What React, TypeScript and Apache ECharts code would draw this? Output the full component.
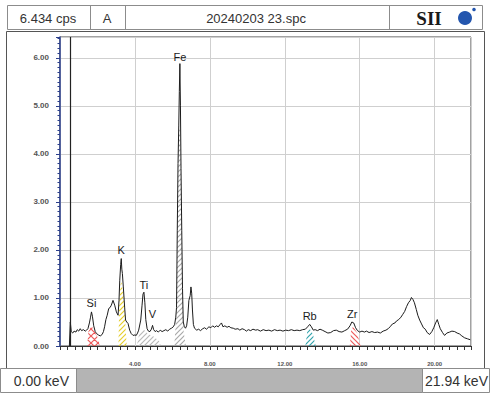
import React, { useEffect, useRef } from "react";
import * as echarts from "echarts";

// ---- data ----
const headerCps = "6.434 cps";
const headerMode = "A";
const headerFile = "20240203 23.spc";
const rangeStart = "0.00 keV";
const rangeEnd = "21.94 keV";

const xMax = 21.94; // keV
const yMax = 6.434; // cps
const cursorKeV = 0.53;

const spectrum: [number, number][] = [
  [0.5, 0.0], [0.55, 0.5], [0.6, 0.3], [0.68, 0.27], [0.75, 0.31], [0.85, 0.29], [0.92, 0.34],
  [1.0, 0.31], [1.08, 0.36], [1.15, 0.32], [1.25, 0.34], [1.35, 0.31], [1.42, 0.33],
  [1.49, 0.36], [1.57, 0.48], [1.63, 0.6], [1.68, 0.71], [1.73, 0.62], [1.8, 0.42], [1.88, 0.3],
  [1.95, 0.26], [2.05, 0.23], [2.15, 0.21], [2.25, 0.24], [2.32, 0.3],
  [2.38, 0.4], [2.45, 0.55], [2.52, 0.64], [2.6, 0.78], [2.67, 0.8], [2.74, 0.85], [2.83, 0.95],
  [2.92, 0.85], [3.01, 0.71], [3.1, 0.64], [3.15, 0.95], [3.19, 1.37], [3.24, 1.7], [3.27, 1.82],
  [3.3, 1.6], [3.33, 1.51], [3.38, 1.23], [3.45, 0.81], [3.5, 0.54], [3.56, 0.5], [3.63, 0.47],
  [3.72, 0.33], [3.8, 0.26], [3.9, 0.22], [4.0, 0.23], [4.07, 0.22], [4.14, 0.27], [4.2, 0.33],
  [4.31, 0.54], [4.38, 0.85], [4.43, 1.08], [4.48, 1.12], [4.53, 0.9], [4.58, 0.55], [4.65, 0.36],
  [4.72, 0.31], [4.8, 0.3], [4.88, 0.35], [4.94, 0.43], [5.0, 0.34], [5.08, 0.3], [5.15, 0.32],
  [5.25, 0.29], [5.35, 0.33], [5.45, 0.3], [5.55, 0.32], [5.65, 0.34], [5.75, 0.31], [5.85, 0.35],
  [5.95, 0.37], [6.05, 0.4], [6.12, 0.45], [6.18, 0.6], [6.22, 0.8], [6.26, 2.4], [6.3, 3.8],
  [6.34, 4.6], [6.37, 5.3], [6.4, 5.88], [6.43, 5.0], [6.46, 3.7], [6.5, 2.4], [6.54, 1.2],
  [6.58, 0.5], [6.64, 0.4], [6.7, 0.37], [6.76, 0.42], [6.82, 0.6], [6.88, 0.95], [6.95, 1.05],
  [6.99, 1.23], [7.03, 1.1], [7.07, 0.75], [7.12, 0.45], [7.18, 0.37], [7.3, 0.33], [7.4, 0.35],
  [7.5, 0.32], [7.62, 0.36], [7.72, 0.38], [7.82, 0.35], [7.95, 0.4], [8.05, 0.38], [8.15, 0.42],
  [8.25, 0.39], [8.35, 0.42], [8.45, 0.4], [8.55, 0.45], [8.62, 0.48], [8.7, 0.4], [8.8, 0.42],
  [8.92, 0.39], [9.02, 0.41], [9.12, 0.38], [9.25, 0.37], [9.35, 0.35], [9.5, 0.36], [9.6, 0.33],
  [9.72, 0.36], [9.85, 0.34], [9.95, 0.31], [10.05, 0.34], [10.18, 0.32], [10.3, 0.35],
  [10.45, 0.33], [10.55, 0.34], [10.7, 0.31], [10.85, 0.34], [11.0, 0.32], [11.15, 0.33],
  [11.3, 0.31], [11.45, 0.34], [11.6, 0.32], [11.75, 0.33], [11.9, 0.31], [12.05, 0.33],
  [12.2, 0.32], [12.35, 0.34], [12.5, 0.32], [12.65, 0.33], [12.8, 0.32], [12.95, 0.34],
  [13.1, 0.35], [13.22, 0.4], [13.33, 0.45], [13.42, 0.4], [13.52, 0.33], [13.62, 0.34],
  [13.75, 0.32], [13.88, 0.35], [14.0, 0.33], [14.15, 0.3], [14.3, 0.27], [14.45, 0.28],
  [14.6, 0.32], [14.75, 0.33], [14.9, 0.3], [15.05, 0.29], [15.2, 0.32], [15.35, 0.35],
  [15.48, 0.42], [15.58, 0.5], [15.68, 0.48], [15.78, 0.38], [15.88, 0.32], [16.0, 0.29],
  [16.12, 0.31], [16.25, 0.29], [16.36, 0.31], [16.5, 0.28], [16.65, 0.3], [16.8, 0.28],
  [16.95, 0.29], [17.1, 0.27], [17.25, 0.31], [17.4, 0.33], [17.52, 0.36], [17.62, 0.4],
  [17.75, 0.46], [17.88, 0.48], [17.96, 0.52], [18.08, 0.55], [18.2, 0.6], [18.3, 0.66],
  [18.4, 0.72], [18.5, 0.82], [18.6, 0.9], [18.7, 0.95], [18.76, 1.01], [18.84, 0.97],
  [18.92, 0.9], [19.02, 0.76], [19.1, 0.64], [19.2, 0.54], [19.3, 0.46], [19.4, 0.38],
  [19.5, 0.35], [19.6, 0.28], [19.73, 0.24], [19.85, 0.3], [19.95, 0.38], [20.05, 0.48],
  [20.14, 0.55], [20.22, 0.45], [20.3, 0.36], [20.42, 0.28], [20.53, 0.22], [20.65, 0.27],
  [20.8, 0.29], [20.92, 0.31], [21.07, 0.3], [21.2, 0.27], [21.33, 0.25], [21.45, 0.21],
  [21.6, 0.17], [21.75, 0.15], [21.9, 0.13],
];

// hatched regions of interest (net peak areas)
const roiSi: [number, number][] = [[1.45, 0], [1.52, 0.3], [1.68, 0.42], [1.85, 0.3], [2.05, 0.15], [2.12, 0]];
const roiK: [number, number][] = [[3.12, 0], [3.16, 0.9], [3.26, 1.38], [3.4, 1.0], [3.5, 0.4], [3.56, 0]];
const roiTiV: [number, number][] = [[4.1, 0], [4.25, 0.3], [4.45, 0.35], [4.7, 0.25], [5.0, 0.2], [5.3, 0.1], [5.38, 0]];
const roiFe: [number, number][] = [[6.1, 0], [6.22, 0.7], [6.26, 2.2], [6.34, 4.4], [6.4, 4.6], [6.46, 3.5], [6.52, 1.5], [6.6, 0.3], [6.72, 0]];
const roiRb: [number, number][] = [[13.1, 0], [13.2, 0.3], [13.33, 0.36], [13.5, 0.25], [13.65, 0]];
const roiZr: [number, number][] = [[15.47, 0], [15.55, 0.35], [15.65, 0.4], [15.85, 0.28], [16.05, 0]];

const peakNames = ["Si", "K", "Ti", "V", "Fe", "Rb", "Zr"];
const peakKeV = [1.68, 3.27, 4.48, 4.94, 6.4, 13.33, 15.6];
const peakCps = [0.71, 1.82, 1.12, 0.43, 5.88, 0.45, 0.5];

// ---- styles ----
const labelGap: Record<string, number> = { Si: 3, K: 3, Ti: 2, V: 6, Fe: 1, Rb: 3, Zr: 2 };
const FONT = '"Liberation Sans", Arial, sans-serif';

function hatch(color: string, kind: "fwd" | "back" | "cross", s: number) {
  const c = document.createElement("canvas");
  c.width = s;
  c.height = s;
  const g = c.getContext("2d")!;
  g.strokeStyle = color;
  g.lineWidth = 1.2;
  g.beginPath();
  if (kind !== "back") {
    g.moveTo(-1, s + 1); g.lineTo(s + 1, -1);
    g.moveTo(-1, 1); g.lineTo(1, -1);
    g.moveTo(s - 1, s + 1); g.lineTo(s + 1, s - 1);
  }
  if (kind !== "fwd") {
    g.moveTo(-1, -1); g.lineTo(s + 1, s + 1);
    g.moveTo(s - 1, -1); g.lineTo(s + 1, 1);
    g.moveTo(-1, s - 1); g.lineTo(1, s + 1);
  }
  g.stroke();
  return { image: c, repeat: "repeat" } as any;
}

function roiSeries(data: [number, number][], color: string, kind: "fwd" | "back" | "cross", s = 5) {
  return {
    type: "line",
    data,
    symbol: "none",
    silent: true,
    z: 1,
    lineStyle: { width: 0, opacity: 0 },
    areaStyle: { color: hatch(color, kind, s), opacity: 1 },
  };
}

export default function App() {
  const ref = useRef<HTMLDivElement>(null);

  useEffect(() => {
    if (!ref.current) return;
    const chart = echarts.init(ref.current, undefined, { renderer: "svg" });
    const fmt = (v: number) => v.toFixed(2);

    const staticGraphic: any[] = [
      // outer plot frame
      { type: "rect", shape: { x: 6.5, y: 31.5, width: 478, height: 337 }, style: { fill: "none", stroke: "#555", lineWidth: 1 }, z: 0, silent: true },
      // header cells
      { type: "rect", shape: { x: 7.5, y: 5.5, width: 475, height: 24 }, style: { fill: "#fff", stroke: "#8c8c8c", lineWidth: 1 }, silent: true },
      { type: "line", shape: { x1: 90.5, y1: 5.5, x2: 90.5, y2: 29.5 }, style: { stroke: "#8c8c8c", lineWidth: 1 }, silent: true },
      { type: "line", shape: { x1: 125.5, y1: 5.5, x2: 125.5, y2: 29.5 }, style: { stroke: "#8c8c8c", lineWidth: 1 }, silent: true },
      { type: "line", shape: { x1: 389.5, y1: 5.5, x2: 389.5, y2: 29.5 }, style: { stroke: "#8c8c8c", lineWidth: 1 }, silent: true },
      { type: "text", x: 48, y: 18, style: { text: headerCps, fill: "#333", font: `13px ${FONT}`, align: "center", verticalAlign: "middle" }, silent: true },
      { type: "text", x: 107, y: 18, style: { text: headerMode, fill: "#333", font: `13px ${FONT}`, align: "center", verticalAlign: "middle" }, silent: true },
      { type: "text", x: 256, y: 18, style: { text: headerFile, fill: "#333", font: `13px ${FONT}`, align: "center", verticalAlign: "middle" }, silent: true },
      { type: "text", x: 429, y: 18, style: { text: "SII", fill: "#1a1a1a", font: `bold 19px "Liberation Serif", "DejaVu Serif", serif`, align: "center", verticalAlign: "middle" }, silent: true },
      { type: "circle", shape: { cx: 465, cy: 18, r: 7 }, style: { fill: "#2456ae" }, silent: true },
      { type: "circle", shape: { cx: 474, cy: 9.5, r: 1.8 }, style: { fill: "#2456ae" }, silent: true },
      // footer
      { type: "rect", shape: { x: 0.5, y: 368.5, width: 76, height: 24 }, style: { fill: "#fff", stroke: "#8c8c8c", lineWidth: 1 }, silent: true },
      { type: "rect", shape: { x: 76.5, y: 368.5, width: 346, height: 24 }, style: { fill: "#b4b4b4", stroke: "#8c8c8c", lineWidth: 1 }, silent: true },
      { type: "rect", shape: { x: 422.5, y: 368.5, width: 67, height: 24 }, style: { fill: "#fff", stroke: "#8c8c8c", lineWidth: 1 }, silent: true },
      { type: "text", x: 69, y: 381, style: { text: rangeStart, fill: "#333", font: `14px ${FONT}`, align: "right", verticalAlign: "middle" }, silent: true },
      { type: "text", x: 488, y: 381, style: { text: rangeEnd, fill: "#333", font: `14px ${FONT}`, align: "right", verticalAlign: "middle" }, silent: true },
    ];

    const option: any = {
      animation: false,
      backgroundColor: "#ffffff",
      grid: { left: 60, right: 19, top: 37, bottom: 51, show: true, borderColor: "#444", borderWidth: 1 },
      xAxis: {
        type: "value",
        min: 0,
        max: xMax,
        interval: 4,
        axisLine: { show: true, lineStyle: { color: "#333", width: 1 } },
        axisTick: { show: true, length: 4, lineStyle: { color: "#333" } },
        minorTick: { show: true, splitNumber: 10, length: 4, lineStyle: { color: "#333" } },
        splitLine: { show: true, lineStyle: { color: "#cfcfcf", width: 1 } },
        axisLabel: {
          formatter: fmt,
          showMinLabel: false,
          showMaxLabel: false,
          fontSize: 6,
          fontWeight: "bold",
          color: "#555",
          fontFamily: FONT,
          margin: 15,
        },
      },
      yAxis: {
        type: "value",
        min: 0,
        max: yMax,
        interval: 1,
        axisLine: { show: true, lineStyle: { color: "#2b3f8c", width: 1.5 } },
        axisTick: { show: true, length: 4, lineStyle: { color: "#2b3f8c" } },
        minorTick: { show: true, splitNumber: 10, length: 2.5, lineStyle: { color: "#2b3f8c" } },
        splitLine: { show: true, lineStyle: { color: "#cfcfcf", width: 1 } },
        axisLabel: {
          formatter: fmt,
          showMaxLabel: false,
          fontSize: 8,
          fontWeight: "bold",
          color: "#555",
          fontFamily: FONT,
          margin: 11,
        },
      },
      series: [
        roiSeries(roiSi, "#ee5a5a", "cross", 7),
        roiSeries(roiK, "#e6cf2e", "fwd"),
        roiSeries(roiTiV, "#b9b9b9", "fwd"),
        roiSeries(roiFe, "#a9a9a9", "fwd"),
        roiSeries(roiRb, "#32a3ac", "fwd"),
        roiSeries(roiZr, "#ee5a5a", "back"),
        {
          type: "line",
          data: spectrum,
          symbol: "none",
          z: 3,
          lineStyle: { color: "#1c1c1c", width: 1 },
          markLine: {
            silent: true,
            symbol: "none",
            label: { show: false },
            lineStyle: { color: "#222", width: 1.2, type: "solid" },
            data: [{ xAxis: cursorKeV }],
          },
        },
      ],
      graphic: staticGraphic,
    };

    chart.setOption(option);

    // element labels placed through the chart's own scales
    const peakTexts = peakNames.map((n, i) => {
      const [px, py] = chart.convertToPixel({ gridIndex: 0 }, [peakKeV[i], peakCps[i]]) as number[];
      return {
        type: "text",
        x: px,
        y: py - labelGap[n],
        silent: true,
        z: 10,
        style: { text: n, fill: "#1a1a1a", font: `11px ${FONT}`, align: "center", verticalAlign: "bottom" },
      };
    });
    chart.setOption({ graphic: [...staticGraphic, ...peakTexts] });

    return () => chart.dispose();
  }, []);

  return (
    <div
      ref={ref}
      style={{ position: "fixed", left: 0, top: 0, width: 490, height: 397, background: "#fff" }}
    />
  );
}
